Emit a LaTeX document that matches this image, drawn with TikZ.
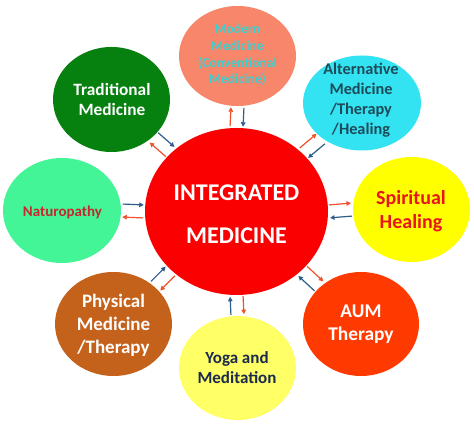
\documentclass[tikz,border=0pt]{standalone}
\usepackage{fontspec}
\setmainfont{Carlito}
\usetikzlibrary{shapes.geometric,arrows.meta,calc}
\definecolor{cred}{HTML}{FA0000}
\definecolor{modfill}{HTML}{F7866A}
\definecolor{modtext}{HTML}{3CCFCF}
\definecolor{altfill}{HTML}{33E3F2}
\definecolor{alttext}{HTML}{1E4B5A}
\definecolor{spifill}{HTML}{FFFF00}
\definecolor{spitext}{HTML}{E8141E}
\definecolor{aumfill}{HTML}{FF3A00}
\definecolor{yogafill}{HTML}{FFFF66}
\definecolor{yogatext}{HTML}{1B2A4E}
\definecolor{physfill}{HTML}{C4621C}
\definecolor{natfill}{HTML}{44F598}
\definecolor{nattext}{HTML}{C6262E}
\definecolor{tradfill}{HTML}{06800F}
\definecolor{arred}{HTML}{F0502A}
\definecolor{arblue}{HTML}{2E5D8C}
\tikzset{
  bub/.style={ellipse, draw=none, inner sep=0pt, outer sep=0pt},
  txt/.style={align=center, inner sep=0pt, font=\bfseries},
  outar/.style={draw=arred, line width=1.2pt, -{Triangle[length=4.5pt,width=4.5pt]}, shorten <=1.5pt, shorten >=1.5pt},
  inar/.style={draw=arblue, line width=1.2pt, -{Triangle[length=4.5pt,width=4.5pt]}, shorten <=1.5pt, shorten >=1.5pt}
}
\newcommand\arrpair[4]{%
  \draw[outar] ($(#1.#3)!6.5pt!90:(#2.#4)$) -- ($(#2.#4)!6.5pt!-90:(#1.#3)$);
  \draw[inar] ($(#2.#4)!6.5pt!90:(#1.#3)$) -- ($(#1.#3)!6.5pt!-90:(#2.#4)$);
}
\begin{document}
\begin{tikzpicture}[x=1pt,y=1pt]
\fill[white] (0,0) rectangle (474,425);
\useasboundingbox (0,0) rectangle (474,425);

% central
\node[bub, fill=cred, minimum width=183pt, minimum height=167pt] (c) at (236.5,213.5) {};
\node[txt, text=white, font=\bfseries\fontsize{24}{43}\selectfont] (ct) at (236.5,210.5) {INTEGRATED\\MEDICINE};

% outer bubbles
\node[bub, fill=modfill, minimum width=117pt, minimum height=100pt] (mod) at (237.5,369) {};
\node[txt, text=modtext, font=\bfseries\fontsize{13.6}{16.7}\selectfont] (modt) at (237.5,370) {Modern\\Medicine\\(Conventional\\Medicine)};

\node[bub, fill=altfill, minimum width=118pt, minimum height=95pt] (alt) at (362,322) {};
\node[txt, text=alttext, font=\bfseries\fontsize{16.3}{20}\selectfont] (altt) at (361,325) {Alternative\\Medicine\\/Therapy\\/Healing};

\node[bub, fill=spifill, minimum width=117pt, minimum height=105pt] (spi) at (411.5,215.5) {};
\node[txt, text=spitext, font=\bfseries\fontsize{20}{24}\selectfont] (spit) at (411,214) {Spiritual\\Healing};

\node[bub, fill=aumfill, minimum width=116pt, minimum height=104pt] (aum) at (361,101) {};
\node[txt, text=white, font=\bfseries\fontsize{19.4}{23}\selectfont] (aumt) at (361,101) {AUM\\Therapy};

\node[bub, fill=yogafill, minimum width=117pt, minimum height=104pt] (yoga) at (237.5,57) {};
\node[txt, text=yogatext, font=\bfseries\fontsize{17}{20}\selectfont] (yogat) at (237,57.5) {Yoga and\\Meditation};

\node[bub, fill=physfill, minimum width=117pt, minimum height=104pt] (phys) at (113.5,101) {};
\node[txt, text=white, font=\bfseries\fontsize{19}{23}\selectfont] (physt) at (113.5,100) {Physical\\Medicine\\/Therapy};

\node[bub, fill=natfill, minimum width=118pt, minimum height=105pt] (nat) at (62,214.5) {};
\node[txt, text=nattext, font=\bfseries\fontsize{15}{18}\selectfont] (natt) at (62.5,213) {Naturopathy};

\node[bub, fill=tradfill, minimum width=117pt, minimum height=105pt] (trad) at (111.5,325.5) {};
\node[txt, text=white, font=\bfseries\fontsize{17.3}{20}\selectfont] (tradt) at (112,325.5) {Traditional\\Medicine};

% arrow pairs
\arrpair{c}{mod}{90}{270}
\arrpair{c}{alt}{41}{221}
\arrpair{c}{spi}{0}{180}
\arrpair{c}{aum}{318}{138}
\arrpair{c}{yoga}{270}{90}
\arrpair{c}{phys}{222}{42}
\arrpair{c}{nat}{180}{0}
\arrpair{c}{trad}{138}{318}
\end{tikzpicture}
\end{document}
